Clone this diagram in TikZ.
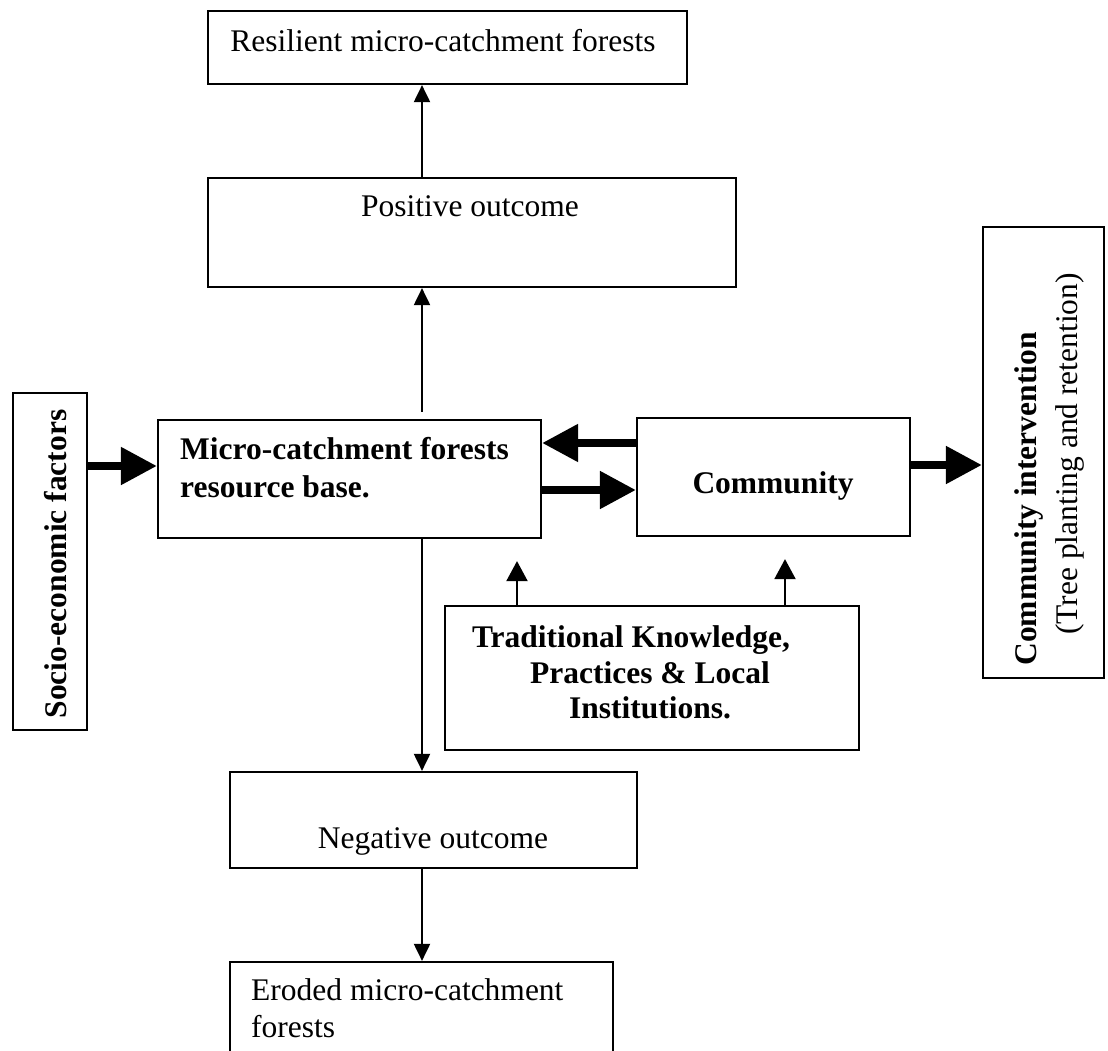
\documentclass[tikz,border=0pt]{standalone}
\usepackage{fontspec}
\setmainfont{Liberation Serif}
\usetikzlibrary{arrows.meta}
\begin{document}
\begin{tikzpicture}[x=1pt,y=-1pt,
  box/.style={draw, line width=2.2pt, inner sep=0pt},
  txt/.style={inner sep=0pt, anchor=base, font=\fontsize{31.5pt}{36pt}\selectfont},
  btxt/.style={inner sep=0pt, anchor=base, font=\fontsize{31.5pt}{36pt}\selectfont\bfseries},
  bigarrow/.style={line width=8pt, -{Triangle[width=36pt,length=36pt]}},
  thinarrow/.style={line width=2pt, -{Triangle[width=16pt,length=17pt]}},
  trarrow/.style={line width=2pt, -{Triangle[width=21pt,length=20pt]}}
]
\fill[white] (0,0) rectangle (1108,1051);
\clip (0,0) rectangle (1108,1051);

% boxes
\node[box, minimum width=479pt, minimum height=73pt]  (res)   at (447.5,47.5) {};
\node[box, minimum width=528pt, minimum height=109pt] (pos)   at (472,232.5) {};
\node[box, minimum width=74pt,  minimum height=337pt] (socio) at (50,561.5) {};
\node[box, minimum width=383pt, minimum height=118pt] (micro) at (349.5,479) {};
\node[box, minimum width=273pt, minimum height=118pt] (comm)  at (773.5,477) {};
\node[box, minimum width=121pt, minimum height=451pt] (ci)    at (1043.5,452.5) {};
\node[box, minimum width=414pt, minimum height=144pt] (trad)  at (652,678) {};
\node[box, minimum width=407pt, minimum height=96pt]  (neg)   at (433.5,820) {};
\node[box, minimum width=383pt, minimum height=118pt] (ero)   at (421.5,1021) {};

% texts
\node[txt] (resT) at (443,52) {Resilient micro-catchment forests};
\node[txt] (posT) at (470,217) {Positive outcome};
\node[btxt, rotate=90] (socioT) at (66,564) {Socio-economic factors};
\node[btxt, anchor=base west] (microT1) at (180,459) {Micro-catchment forests};
\node[btxt, anchor=base west] (microT2) at (180,497) {resource base.};
\node[btxt] (commT) at (773,493) {Community};
\node[btxt, rotate=90] (ciT1) at (1036,499) {Community intervention};
\node[txt, rotate=90] (ciT2) at (1077,454) {(Tree planting and retention)};
\node[btxt] (tradT1) at (631,647) {Traditional Knowledge,};
\node[btxt] (tradT2) at (650,683) {Practices \& Local};
\node[btxt] (tradT3) at (650,718) {Institutions.};
\node[txt] (negT) at (433,848) {Negative outcome};
\node[txt, anchor=base west] (eroT1) at (251,1000) {Eroded micro-catchment};
\node[txt, anchor=base west] (eroT2) at (251,1037) {forests};

% helper coordinates
\coordinate (cx) at (422,0);
\coordinate (ys) at (0,466);
\coordinate (yl) at (0,443);
\coordinate (yr) at (0,490);
\coordinate (yc) at (0,465);
\coordinate (tx1) at (517,0);
\coordinate (tx2) at (785,0);

% thin vertical connectors
\draw[thinarrow, shorten <=7pt] (micro.north -| cx) -- (pos.south -| cx);
\draw[thinarrow] (pos.north -| cx) -- (res.south -| cx);
\draw[thinarrow] (micro.south -| cx) -- (neg.north -| cx);
\draw[thinarrow] (neg.south -| cx) -- (ero.north -| cx);
\draw[trarrow, shorten >=22pt] (trad.north -| tx1) -- (micro.south -| tx1);
\draw[trarrow, shorten >=22pt] (trad.north -| tx2) -- (comm.south -| tx2);

% thick connectors
\draw[bigarrow] (socio.east |- ys) -- (micro.west |- ys);
\draw[bigarrow] (comm.west |- yl) -- (micro.east |- yl);
\draw[bigarrow] (micro.east |- yr) -- (comm.west |- yr);
\draw[bigarrow] (comm.east |- yc) -- (ci.west |- yc);
\end{tikzpicture}
\end{document}
